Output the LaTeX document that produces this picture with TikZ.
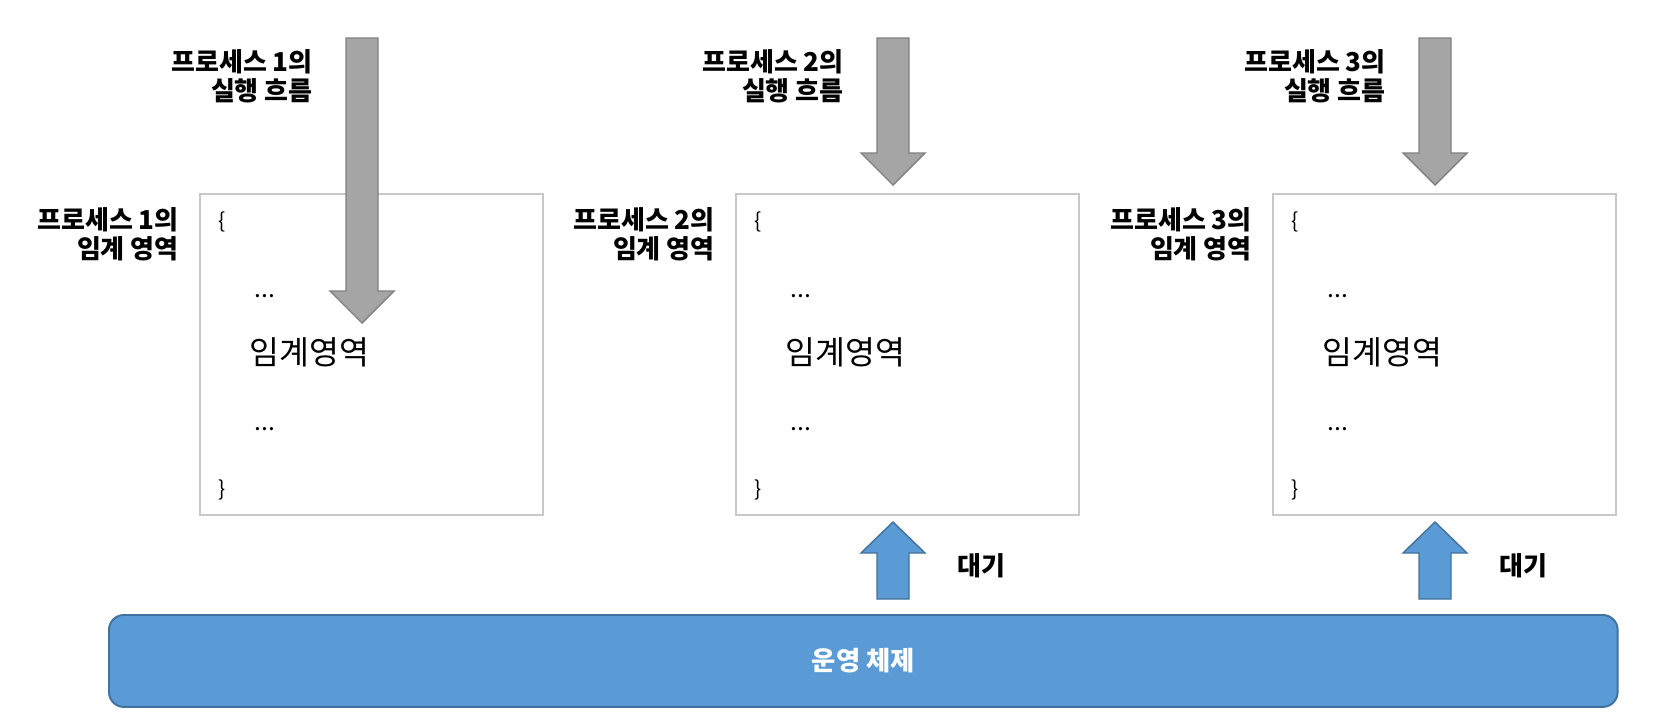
\documentclass[tikz,border=0pt]{standalone}
\usepackage{fontspec}
\setmainfont{Noto Sans CJK KR}
\usetikzlibrary{positioning}
\definecolor{flowgray}{HTML}{A5A5A5}
\definecolor{flowedge}{HTML}{808080}
\definecolor{osblue}{HTML}{5B9BD5}
\definecolor{osedge}{HTML}{41719C}
\definecolor{boxedge}{HTML}{C8C8C8}
\tikzset{
  cbox/.style={draw=boxedge,line width=1.1pt,minimum width=6.86cm,minimum height=6.42cm,
    inner sep=0pt,anchor=north west},
  flow/.style={fill=flowgray,draw=flowedge,line width=0.8pt},
  waitarrow/.style={fill=osblue,draw=osedge,line width=0.8pt},
  lbl/.style={font=\bfseries\fontsize{14.8}{16.5}\selectfont,align=right,inner sep=0pt},
  code/.style={font=\fontsize{12}{14}\selectfont,inner sep=0pt}
}

\begin{document}
\begin{tikzpicture}[x=0.02cm,y=-0.02cm]
  \useasboundingbox (0,0) rectangle (1668,727);
  % critical sections
  \foreach \i/\bx in {1/199,2/735,3/1272}{
    \node[cbox] (box\i) at (\bx,193) {};
    \node[lbl,anchor=east] (crit\i) at ({\bx-20},234) {프로세스 \i{}의\\임계 영역};
    \node[code,anchor=west] (open\i) at ({\bx+19},222) {\{};
    \node[code,font=\fontsize{14}{16}\selectfont,anchor=base west] (dotsA\i) at ({\bx+55},297) {...};
    \node[code,font=\fontsize{18.5}{20}\selectfont,anchor=west] (body\i) at ({\bx+50},352) {임계영역};
    \node[code,font=\fontsize{14}{16}\selectfont,anchor=base west] (dotsB\i) at ({\bx+55},430) {...};
    \node[code,anchor=west] (close\i) at ({\bx+19},490) {\}};
  }
  % execution flow
  \foreach \i/\cx/\hb in {1/362/291,2/893/153,3/1435/153}{
    \draw[flow] ({\cx-16},38) -- ({\cx+16},38) -- ({\cx+16},\hb) -- ({\cx+32},\hb)
      -- (\cx,{\hb+32}) -- ({\cx-32},\hb) -- ({\cx-16},\hb) -- cycle;
    \node[lbl,anchor=east] (run\i) at ({\cx-49},76) {프로세스 \i{}의\\실행 흐름};
  }
  % operating system
  \node[draw=osedge,fill=osblue,line width=1.1pt,rounded corners=0.3cm,
    minimum width=30.18cm,minimum height=1.84cm,anchor=north west,text=white,
    font=\bfseries\fontsize{15}{17}\selectfont] (os) at (108,614) {운영 체제};
  \foreach \i/\cx in {2/893,3/1435}{
    \draw[waitarrow] ({\cx-16},599) -- ({\cx-16},553) -- ({\cx-32},553) -- (\cx,522)
      -- ({\cx+32},553) -- ({\cx+16},553) -- ({\cx+16},599) -- cycle;
    \node[lbl,anchor=west] (wait\i) at ({\cx+64},566) {대기};
  }
\end{tikzpicture}
\end{document}
